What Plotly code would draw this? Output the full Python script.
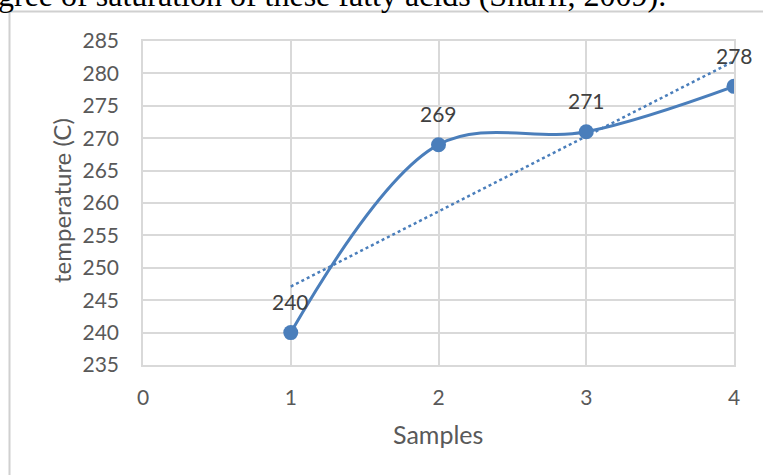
import numpy as np
import plotly.graph_objects as go

samples = [1, 2, 3, 4]
temperature = [240, 269, 271, 278]
x_ticks = [0, 1, 2, 3, 4]
y_ticks = [235, 240, 245, 250, 255, 260, 265, 270, 275, 280, 285]
caption = "gree of saturation of these fatty acids (Sharif, 2009)."
x_title = "Samples"
y_title = "temperature (C)"

blue = "#4A7EBB"
grid = "#D9D9D9"
txt = "#595959"
font_family = "Lato, Open Sans, sans-serif"

slope, intercept = np.polyfit(samples, temperature, 1)
trend_x = [samples[0], samples[-1]]
trend_y = [slope * v + intercept for v in trend_x]

fig = go.Figure()
fig.add_trace(go.Scatter(
    x=trend_x, y=trend_y, mode="lines",
    line=dict(color=blue, width=2.5, dash="dot"),
    hoverinfo="skip", showlegend=False))
fig.add_trace(go.Scatter(
    x=samples, y=temperature, mode="lines+markers",
    line=dict(color=blue, width=3, shape="spline", smoothing=1),
    marker=dict(color=blue, size=15),
    showlegend=False))

for xv, yv in zip(samples, temperature):
    fig.add_annotation(x=xv, y=yv, text=str(yv), showarrow=False,
                       yshift=31, font=dict(family=font_family, size=21, color="#404040"))

W, H = 763, 475
L, R, T, B = 143, 29, 41, 110
pw, ph = W - L - R, H - T - B

def px_x(p):
    return (p - L) / pw

def px_y(p):
    return 1 - (p - T) / ph

# outer chart frame
fig.add_shape(type="line", xref="paper", yref="paper",
              x0=px_x(9.5), x1=px_x(9.5), y0=px_y(11.5), y1=px_y(480),
              line=dict(color="#D0D0D0", width=2))
fig.add_shape(type="line", xref="paper", yref="paper",
              x0=px_x(9.5), x1=px_x(770), y0=px_y(11.5), y1=px_y(11.5),
              line=dict(color="#D0D0D0", width=2))

fig.add_annotation(xref="paper", yref="paper", x=px_x(-4), y=px_y(15),
                   xanchor="left", yanchor="bottom", showarrow=False,
                   text=caption,
                   font=dict(family="Liberation Serif, serif", size=32, color="#000000"))

# axis titles
fig.add_annotation(xref="paper", yref="paper", x=px_x(438), y=px_y(434),
                   xanchor="center", yanchor="middle", showarrow=False,
                   text=x_title, font=dict(family=font_family, size=25, color=txt))
fig.add_annotation(xref="paper", yref="paper", x=px_x(61), y=px_y(201),
                   xanchor="center", yanchor="middle", showarrow=False, textangle=-90,
                   text=y_title, font=dict(family=font_family, size=24, color=txt))

fig.update_layout(
    width=W, height=H,
    margin=dict(l=L, r=R, t=T, b=B),
    paper_bgcolor="white", plot_bgcolor="white",
    font=dict(family=font_family, color=txt, size=21),
    xaxis=dict(range=[0, 4], tickvals=x_ticks, showgrid=True, gridcolor=grid, gridwidth=1.5,
               zeroline=False, showline=True, linecolor=grid, linewidth=1.5, mirror=True,
               ticks="", ticklabelstandoff=13, tickfont=dict(size=21, color=txt)),
    yaxis=dict(range=[235, 285], tickvals=y_ticks, showgrid=True, gridcolor=grid, gridwidth=1.5,
               zeroline=False, showline=True, linecolor=grid, linewidth=1.5, mirror=True,
               ticks="", ticklabelstandoff=18, tickfont=dict(size=21, color=txt)),
)

fig.write_html("out.html")
